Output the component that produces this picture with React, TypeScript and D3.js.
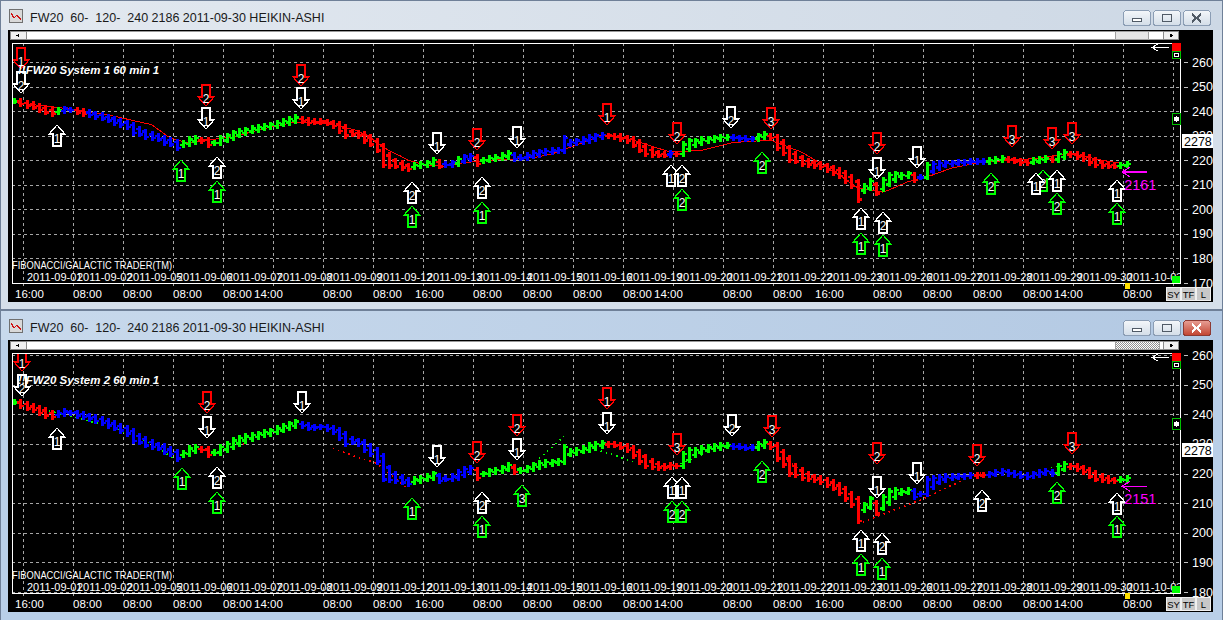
import React from 'react';
import * as d3 from 'd3';

// hourly Heikin-Ashi closes (same instrument in both windows)
const CLOSES = [
  2440, 2428, 2420, 2415, 2405, 2395, 2390, 2405, 2410, 2405,
  2395, 2390, 2385, 2378, 2370, 2362, 2352, 2345, 2335, 2310,
  2305, 2295, 2290, 2285, 2272, 2265, 2250, 2270, 2285, 2290,
  2280, 2262, 2270, 2290, 2300, 2312, 2320, 2325, 2330, 2335,
  2340, 2345, 2352, 2360, 2368, 2375, 2360, 2352, 2355, 2358,
  2350, 2340, 2320, 2300, 2305, 2300, 2280, 2265, 2240, 2180,
  2178, 2175, 2170, 2165, 2180, 2185, 2190, 2200, 2175, 2180,
  2190, 2205, 2215, 2218, 2185, 2200, 2210, 2212, 2220, 2228,
  2205, 2208, 2220, 2230, 2235, 2238, 2240, 2242, 2290, 2275,
  2280, 2285, 2295, 2300, 2302, 2300, 2295, 2288, 2280, 2260,
  2240, 2225, 2222, 2220, 2220, 2228, 2225, 2265, 2280, 2280,
  2285, 2288, 2292, 2295, 2295, 2290, 2288, 2285, 2288, 2300,
  2305, 2290, 2250, 2230, 2200, 2195, 2185, 2182, 2178, 2172,
  2162, 2150, 2135, 2115, 2095, 2040, 2095, 2115, 2065, 2120,
  2140, 2145, 2140, 2145, 2120, 2130, 2180, 2185, 2188, 2190,
  2190, 2192, 2192, 2195, 2195, 2195, 2200, 2205, 2208, 2200,
  2195, 2190, 2188, 2200, 2205, 2208, 2200, 2225, 2232, 2225,
  2215, 2205, 2190, 2180, 2178, 2175, 2175, 2180, 2185,
];

const DATES = [
  '2011-09-01', '2011-09-02', '2011-09-05', '2011-09-06', '2011-09-07', '2011-09-08',
  '2011-09-09', '2011-09-12', '2011-09-13', '2011-09-14', '2011-09-15', '2011-09-16',
  '2011-09-19', '2011-09-20', '2011-09-21', '2011-09-22', '2011-09-23', '2011-09-26',
  '2011-09-27', '2011-09-28', '2011-09-29', '2011-09-30', '2011-10-03',
];

// [label, position in trading days]
const TIME_TICKS: [string, number][] = [
  ['16:00', -0.16], ['08:00', 1], ['08:00', 2], ['08:00', 3], ['08:00', 4], ['14:00', 4.62],
  ['08:00', 6], ['08:00', 7], ['16:00', 7.84], ['08:00', 9], ['08:00', 10], ['08:00', 11],
  ['08:00', 12], ['14:00', 12.62], ['08:00', 14], ['08:00', 15], ['16:00', 15.84], ['08:00', 17],
  ['08:00', 18], ['08:00', 19], ['08:00', 20], ['14:00', 20.62], ['08:00', 22],
];

const BARS_PER_DAY = 8;
const FIRST_BAR_DAY = -0.18;

// bar colour runs: [first bar index, colour]
const TOP_COLORS: [number, string][] = [
  [0, 'G'], [1, 'R'], [7, 'G'], [8, 'B'], [10, 'R'], [12, 'B'], [27, 'G'], [30, 'R'], [32, 'G'],
  [46, 'R'], [64, 'G'], [68, 'R'], [69, 'B'], [71, 'G'], [72, 'B'], [74, 'R'], [75, 'G'], [80, 'B'],
  [95, 'R'], [105, 'B'], [106, 'R'], [107, 'G'], [115, 'B'], [119, 'G'], [121, 'R'], [136, 'G'],
  [138, 'R'], [139, 'G'], [144, 'R'], [145, 'B'], [146, 'G'], [147, 'B'], [156, 'G'], [159, 'R'],
  [163, 'G'], [166, 'R'], [167, 'G'], [169, 'R'], [177, 'G'],
];
const BOTTOM_COLORS: [number, string][] = [
  [0, 'G'], [1, 'R'], [7, 'B'], [27, 'G'], [30, 'R'], [32, 'G'], [46, 'B'], [64, 'G'], [68, 'B'],
  [74, 'R'], [75, 'G'], [80, 'R'], [81, 'G'], [95, 'R'], [107, 'G'], [115, 'B'], [119, 'G'],
  [121, 'R'], [136, 'G'], [138, 'R'], [139, 'G'], [144, 'B'], [154, 'R'], [156, 'B'], [167, 'G'],
  [169, 'R'], [177, 'G'],
];

// signal arrows: [bar index, price at arrow top, direction, colour, label]
type Sig = [number, number, 'u' | 'd', 'w' | 'r' | 'g', string];
const TOP_ARROWS: Sig[] = [
  [1.1, 2657, 'd', 'r', '1'], [1.1, 2559, 'd', 'w', '2'], [6.9, 2343, 'u', 'w', '1'],
  [30.7, 2506, 'd', 'r', '2'], [30.7, 2413, 'd', 'w', '1'], [45.9, 2588, 'd', 'r', '2'],
  [45.9, 2494, 'd', 'w', '1'], [26.7, 2201, 'u', 'g', '1'], [32.5, 2213, 'u', 'w', '2'],
  [32.5, 2115, 'u', 'g', '1'], [67.7, 2311, 'd', 'w', '1'], [74.1, 2327, 'd', 'r', '2'],
  [80.5, 2335, 'd', 'w', '1'], [63.7, 2111, 'u', 'w', '2'], [63.7, 2014, 'u', 'g', '1'],
  [74.9, 2132, 'u', 'w', '2'], [74.9, 2030, 'u', 'g', '1'], [94.9, 2429, 'd', 'r', '1'],
  [106.1, 2352, 'd', 'r', '2'], [114.7, 2417, 'd', 'w', '2'], [121.1, 2413, 'd', 'r', '3'],
  [105.1, 2181, 'u', 'w', '1'], [106.9, 2181, 'u', 'w', '2'], [106.9, 2083, 'u', 'g', '2'],
  [119.7, 2234, 'u', 'g', '2'], [138.1, 2311, 'd', 'r', '2'], [138.1, 2209, 'd', 'w', '1'],
  [144.5, 2254, 'd', 'w', '1'], [159.7, 2339, 'd', 'r', '3'], [166.1, 2331, 'd', 'r', '3'],
  [169.3, 2352, 'd', 'r', '3'], [135.5, 2006, 'u', 'w', '1'], [135.5, 1904, 'u', 'g', '1'],
  [139, 1989, 'u', 'w', '2'], [139, 1896, 'u', 'g', '1'], [156.3, 2148, 'u', 'g', '2'],
  [164.6, 2160, 'u', 'g', '2'], [163.5, 2148, 'u', 'w', '1'], [166.9, 2160, 'u', 'w', '1'],
  [166.9, 2067, 'u', 'g', '2'], [176.5, 2120, 'u', 'w', '1'], [176.5, 2026, 'u', 'g', '1'],
];
const BOTTOM_ARROWS: Sig[] = [
  [1.3, 2617, 'd', 'r', '1'], [1.3, 2532, 'd', 'w', '2'], [6.9, 2353, 'u', 'w', '1'],
  [30.9, 2475, 'd', 'r', '2'], [30.9, 2390, 'd', 'w', '1'], [46.1, 2475, 'd', 'w', '1'],
  [26.9, 2218, 'u', 'g', '1'], [32.5, 2222, 'u', 'w', '2'], [32.5, 2137, 'u', 'g', '1'],
  [63.7, 2117, 'u', 'g', '1'], [67.7, 2293, 'd', 'w', '1'], [74.1, 2307, 'd', 'r', '2'],
  [80.5, 2398, 'd', 'r', '2'], [80.5, 2316, 'd', 'w', '1'], [94.9, 2488, 'd', 'r', '1'],
  [94.9, 2404, 'd', 'w', '1'], [106.1, 2333, 'd', 'r', '3'], [114.9, 2398, 'd', 'w', '2'],
  [121.3, 2394, 'd', 'r', '3'], [74.9, 2137, 'u', 'w', '2'], [74.9, 2056, 'u', 'g', '1'],
  [81.3, 2161, 'u', 'g', '3'], [105.3, 2188, 'u', 'w', '1'], [106.9, 2188, 'u', 'w', '1'],
  [105.3, 2107, 'u', 'g', '2'], [106.9, 2107, 'u', 'g', '2'], [119.7, 2242, 'u', 'g', '2'],
  [138.1, 2303, 'd', 'r', '2'], [138.1, 2188, 'd', 'w', '1'], [144.5, 2235, 'd', 'w', '1'],
  [154.1, 2296, 'd', 'r', '2'], [169.3, 2336, 'd', 'r', '3'], [135.5, 2009, 'u', 'w', '1'],
  [135.5, 1928, 'u', 'g', '1'], [138.9, 1998, 'u', 'w', '2'], [138.9, 1914, 'u', 'g', '1'],
  [154.9, 2144, 'u', 'w', '2'], [166.9, 2171, 'u', 'g', '2'], [176.5, 2134, 'u', 'w', '1'],
  [176.5, 2056, 'u', 'g', '1'],
];

// System 1 trailing line [bar, price]
const TOP_STOP: [number, number][] = [
  [0, 2435], [7, 2415], [15, 2385], [22, 2345], [25, 2290], [28, 2270], [31, 2282], [35, 2295],
  [38, 2315], [41, 2335], [45, 2355], [48, 2352], [51, 2345], [55, 2320], [57, 2295], [58, 2270],
  [60, 2240], [62, 2215], [63, 2200], [66, 2180], [69, 2175], [72, 2190], [76, 2200], [80, 2205],
  [83, 2210], [86, 2225], [90, 2262], [94, 2302], [99, 2282], [105, 2233], [110, 2240], [115, 2272],
  [121, 2282], [126, 2233], [129, 2188], [132, 2140], [135, 2087], [139, 2070], [140, 2079],
  [143, 2112], [147, 2140], [150, 2168], [155, 2193], [160, 2200], [164, 2209], [169, 2229],
  [174, 2200], [177, 2188],
];

// System 2 dotted stops
const BOTTOM_STOPS: { c: string; pts: [number, number][] }[] = [
  { c: 'G', pts: [[3, 2425], [10, 2388], [16, 2355], [22, 2300], [26, 2245]] },
  { c: 'R', pts: [[34, 2305], [37, 2298]] },
  { c: 'R', pts: [[51, 2285], [55, 2255], [58, 2235], [60, 2200], [63, 2150]] },
  { c: 'G', pts: [[84, 2250], [88, 2325]] },
  { c: 'G', pts: [[93, 2282], [96, 2262], [99, 2240]] },
  { c: 'G', pts: [[104, 2225], [107, 2235], [110, 2262]] },
  { c: 'R', pts: [[123, 2255], [126, 2210]] },
  { c: 'R', pts: [[135, 2030], [139, 2062], [145, 2110], [150, 2160], [155, 2205]] },
  { c: 'G', pts: [[165, 2215], [167, 2225]] },
];

const TITLE = 'FW20  60-  120-  240 2186 2011-09-30 HEIKIN-ASHI';
const LAST_PRICE = 2278;

const COLOR: Record<string, string> = {
  G: '#00ff00', R: '#ff0000', B: '#0000ff', w: '#ffffff', r: '#ff0000', g: '#00ff00',
};

const W = 1223;
const H = 620;
const FONT = '"Liberation Sans", Arial, sans-serif';

const xDay = d3.scaleLinear().domain([0, 23]).range([23, 1173]);
const xBar = (i: number) => xDay(FIRST_BAR_DAY + i / BARS_PER_DAY);

const opens: number[] = [CLOSES[0]];
for (let i = 1; i < CLOSES.length; i++) opens.push((opens[i - 1] + CLOSES[i - 1]) / 2);

const colorAt = (runs: [number, string][], i: number) => {
  let c = runs[0][1];
  for (const [s, col] of runs) if (s <= i) c = col;
  return COLOR[c];
};

interface PanelCfg {
  id: string;
  y0: number;
  system: string;
  minPrice: number;
  pxMin: number;
  px2600: number;
  colors: [number, string][];
  arrows: Sig[];
  stop?: [number, number][];
  stops?: { c: string; pts: [number, number][] }[];
  markerPrice: number;
  markerText: string;
  active: boolean;
}

const PANELS: PanelCfg[] = [
  {
    id: 'a', y0: 0, system: '!!FW20 System 1 60 min 1', minPrice: 1700, pxMin: 283, px2600: 62,
    colors: TOP_COLORS, arrows: TOP_ARROWS, stop: TOP_STOP, markerPrice: 2152, markerText: '2161', active: false,
  },
  {
    id: 'b', y0: 310, system: '!!FW20 System 2 60 min 1', minPrice: 1800, pxMin: 282, px2600: 45,
    colors: BOTTOM_COLORS, arrows: BOTTOM_ARROWS, stops: BOTTOM_STOPS, markerPrice: 2157, markerText: '2151', active: true,
  },
];

const Arrow: React.FC<{ x: number; y: number; dir: 'u' | 'd'; color: string; label: string }> = ({ x, y, dir, color, label }) => {
  const pts = dir === 'u'
    ? [[x, y], [x + 8, y + 9], [x + 4, y + 9], [x + 4, y + 21], [x - 4, y + 21], [x - 4, y + 9], [x - 8, y + 9]]
    : [[x - 4, y], [x + 4, y], [x + 4, y + 12], [x + 8, y + 12], [x, y + 21], [x - 8, y + 12], [x - 4, y + 12]];
  return (
    <g>
      <polygon points={pts.map(p => p.join(',')).join(' ')} fill="#000" stroke={color} strokeWidth={1.2} />
      <text x={x} y={y + 18} textAnchor="middle" fill="#fff" fontSize={12} fontFamily={FONT}>{label}</text>
    </g>
  );
};

const WinButton: React.FC<{ x: number; y: number; kind: string; red?: boolean }> = ({ x, y, kind, red }) => (
  <g>
    <rect x={x + 0.5} y={y + 0.5} width={27} height={15} rx={3} fill={red ? 'url(#gRed)' : 'url(#gBtn)'} stroke={red ? '#8d3a33' : '#8b9db4'} />
    {kind === 'min' && <rect x={x + 9.5} y={y + 8.5} width={9} height={3} fill="#fff" stroke="#505a66" />}
    {kind === 'max' && <rect x={x + 9.5} y={y + 4.5} width={9} height={7} fill="none" stroke="#505a66" strokeWidth={1.5} />}
    {kind === 'close' && (
      <g stroke={red ? '#fff' : '#505a66'} strokeWidth={2}>
        <line x1={x + 9} y1={y + 4} x2={x + 18} y2={y + 12} />
        <line x1={x + 18} y1={y + 4} x2={x + 9} y2={y + 12} />
      </g>
    )}
  </g>
);

const Panel: React.FC<{ p: PanelCfg }> = ({ p }) => {
  const y0 = p.y0;
  const y = d3.scaleLinear().domain([p.minPrice, 2600]).range([y0 + p.pxMin, y0 + p.px2600]);
  const plotTop = y0 + 43;
  const plotBottom = y0 + 283;
  const plotLeft = 12;
  const plotRight = 1180;
  const priceTicks = d3.range(p.minPrice, 2601, 100);
  const line = d3.line<[number, number]>().x(d => xBar(d[0])).y(d => y(d[1]));
  const frame = p.active ? '#b9cfe8' : '#d5dfea';
  const bottomEdge = Math.min(y0 + 310, H);
  const markerX = xBar(177.3);
  const markerY = y(p.markerPrice);

  return (
    <g>
      {/* window frame and title bar */}
      <rect x={0.5} y={y0 + 0.5} width={W - 1} height={bottomEdge - y0 - 1 + (p.active ? 10 : 0)} fill={frame} stroke="#6f8098" />
      <rect x={1} y={y0 + 1} width={W - 2} height={29} fill={p.active ? 'url(#gTitleA)' : 'url(#gTitleI)'} />
      <rect x={9.5} y={y0 + 9.5} width={13} height={13} fill="#d9d9d9" stroke="#707070" />
      <polyline points={`${11},${y0 + 13} ${14},${y0 + 18} ${17},${y0 + 15} ${21},${y0 + 20}`} fill="none" stroke="#d01010" strokeWidth={1.3} />
      <text x={30} y={y0 + 22} fontSize={12.5} fontFamily={FONT} fill="#1a1a1a" style={{ whiteSpace: 'pre' }}>{TITLE}</text>
      <WinButton x={1123} y={y0 + 10} kind="min" />
      <WinButton x={1153} y={y0 + 10} kind="max" />
      <WinButton x={1183} y={y0 + 10} kind="close" red={p.active} />

      {/* client area */}
      <rect x={8} y={y0 + 30} width={1205} height={272} fill="#000" />

      {/* scrollbar */}
      <rect x={10.5} y={y0 + 31.5} width={1168} height={8} fill="#fff" stroke="#9a9a9a" />
      <rect x={10.5} y={y0 + 31.5} width={16} height={8} fill="#f0f0f0" stroke="#8a8a8a" />
      <polygon points={`${16},${y0 + 35.5} ${19},${y0 + 33.5} ${19},${y0 + 37.5}`} fill="#000" />
      <rect x={1115.5} y={y0 + 31.5} width={p.active ? 44 : 33} height={8} fill={p.active ? 'url(#hatch)' : '#e6e6e6'} stroke="#a0a0a0" />
      <rect x={1163.5} y={y0 + 31.5} width={15} height={8} fill="#f0f0f0" stroke="#8a8a8a" />
      <polygon points={`${1173},${y0 + 35.5} ${1170},${y0 + 33.5} ${1170},${y0 + 37.5}`} fill="#000" />

      {/* grid */}
      <g stroke="#a6a6a6" strokeDasharray="3 3" strokeWidth={1}>
        {d3.range(0, 24).map(k => (
          <line key={`v${k}`} x1={Math.round(xDay(k)) + 0.5} x2={Math.round(xDay(k)) + 0.5} y1={plotTop} y2={plotBottom + 6} />
        ))}
        {priceTicks.map(t => (
          <line key={`h${t}`} x1={plotLeft} x2={plotRight} y1={Math.round(y(t)) + 0.5} y2={Math.round(y(t)) + 0.5} />
        ))}
      </g>
      <rect x={plotLeft + 0.5} y={plotTop + 0.5} width={plotRight - plotLeft} height={plotBottom - plotTop} fill="none" stroke="#fff" />

      <g clipPath={`url(#clip${p.id})`}>
        {/* trailing stops */}
        {p.stop && <path d={line(p.stop) || ''} fill="none" stroke="#ff0000" strokeWidth={1} />}
        {p.stops && p.stops.map((s, k) => (
          <path key={k} d={line(s.pts) || ''} fill="none" stroke={COLOR[s.c]} strokeWidth={1.6} strokeDasharray="1.5 4" />
        ))}

        {/* Heikin-Ashi bars */}
        {CLOSES.map((c, i) => {
          const x = Math.round(xBar(i)) + 0.5;
          const yo = y(opens[i]);
          const yc = y(c);
          return (
            <g key={i} stroke={colorAt(p.colors, i)} strokeWidth={2.5}>
              <line x1={x} x2={x} y1={Math.min(yo, yc) - 3} y2={Math.max(yo, yc) + 3} />
              <line x1={x - 3.5} x2={x} y1={yo} y2={yo} />
              <line x1={x} x2={x + 3.5} y1={yc} y2={yc} />
            </g>
          );
        })}

        {/* signals */}
        {p.arrows.map((a, k) => (
          <Arrow key={k} x={Math.round(xBar(a[0]))} y={Math.round(y(a[1]))} dir={a[2]} color={COLOR[a[3]]} label={a[4]} />
        ))}

        {/* last-price marker */}
        <g stroke="#ff00ff" strokeWidth={1.2} fill="none">
          <line x1={markerX} x2={markerX + 25} y1={markerY} y2={markerY} />
          <polyline points={`${markerX + 8},${markerY - 5} ${markerX},${markerY} ${markerX + 8},${markerY + 5}`} />
        </g>
        <text x={markerX + 2} y={markerY + 18} fontSize={14.5} fontFamily={FONT} fill="#ff00ff">{p.markerText}</text>

        <text x={18} y={y0 + 74} fontSize={11.5} fontWeight="bold" fontStyle="italic" fontFamily={FONT} fill="#fff">{p.system}</text>
        <text x={12} y={y0 + 269} fontSize={10} fontFamily={FONT} fill="#fff" textLength={160} lengthAdjust="spacingAndGlyphs">FIBONACCI/GALACTIC TRADER(TM)</text>
        {DATES.map((d, k) => (
          <text key={d} x={xDay(k) + 4} y={y0 + 281} fontSize={11} fontFamily={FONT} fill="#fff">{d}</text>
        ))}
      </g>

      {/* right-edge widgets */}
      <g stroke="#fff" strokeWidth={1} fill="none">
        <line x1={1152} x2={1169} y1={y0 + 47.5} y2={y0 + 47.5} />
        <polyline points={`${1158},${y0 + 44} ${1152},${y0 + 47.5} ${1158},${y0 + 51}`} />
      </g>
      <rect x={1172} y={y0 + 43} width={9} height={8} fill="#ff0000" />
      <rect x={1172.5} y={y0 + 51.5} width={8} height={7} fill="#000" stroke="#00c000" />
      <rect x={1174.5} y={y0 + 53.5} width={4} height={3} fill="none" stroke="#fff" />
      <rect x={1172.5} y={Math.round(y(LAST_PRICE + 90)) - 5.5} width={8} height={11} fill="#000" stroke="#00c000" />
      <circle cx={1176.5} cy={Math.round(y(LAST_PRICE + 90))} r={2.6} fill="#fff" />
      <rect x={1172} y={plotBottom - 7} width={8} height={7} fill="#00ff00" />
      <rect x={xDay(22) + 2} y={plotBottom} width={5} height={6} fill="#ffe000" />

      {/* price axis */}
      <defs>
        <clipPath id={`ax${p.id}`}><rect x={1181} y={y0 + 30} width={32} height={272} /></clipPath>
      </defs>
      <g clipPath={`url(#ax${p.id})`}>
        {priceTicks.map(t => (
          <g key={t}>
            <line x1={1184} x2={1188} y1={Math.round(y(t)) + 0.5} y2={Math.round(y(t)) + 0.5} stroke="#c0c0c0" />
            <text x={1192} y={y(t) + 4.5} fontSize={12.5} fontFamily={FONT} fill="#fff">{t}</text>
          </g>
        ))}
        <rect x={1182} y={Math.round(y(LAST_PRICE)) - 7} width={31} height={14} fill="#fff" />
        <text x={1184} y={y(LAST_PRICE) + 4.5} fontSize={12.5} fontFamily={FONT} fill="#000">{LAST_PRICE}</text>
      </g>

      {/* time axis */}
      {TIME_TICKS.map(([t, d], k) => (
        <text key={k} x={xDay(d)} y={y0 + 297.5} fontSize={11.5} fontFamily={FONT} fill="#fff">{t}</text>
      ))}
      {['SY', 'TF', 'L'].map((b, k) => (
        <g key={b}>
          <rect x={1166.5 + k * 15} y={y0 + 287.5} width={14} height={13} fill="#c8c8c8" stroke="#f0f0f0" />
          <text x={1173.5 + k * 15} y={y0 + 298} textAnchor="middle" fontSize={9.5} fontFamily={FONT} fill="#000">{b}</text>
        </g>
      ))}
    </g>
  );
};

export default function App() {
  return (
    <div style={{ position: 'fixed', left: 0, top: 0 }}>
      <svg width={W} height={H} style={{ display: 'block' }} shapeRendering="crispEdges">
        <defs>
          <linearGradient id="gTitleI" x1="0" x2="1" y1="0" y2="0">
            <stop offset="0" stopColor="#e3e9f0" />
            <stop offset="1" stopColor="#cdd8e5" />
          </linearGradient>
          <linearGradient id="gTitleA" x1="0" x2="1" y1="0" y2="0">
            <stop offset="0" stopColor="#c8d9ec" />
            <stop offset="1" stopColor="#b3c9e3" />
          </linearGradient>
          <linearGradient id="gBtn" x1="0" x2="0" y1="0" y2="1">
            <stop offset="0" stopColor="#f4f7fa" />
            <stop offset="1" stopColor="#d3dde8" />
          </linearGradient>
          <linearGradient id="gRed" x1="0" x2="0" y1="0" y2="1">
            <stop offset="0" stopColor="#e8a096" />
            <stop offset="1" stopColor="#c2432f" />
          </linearGradient>
          <pattern id="hatch" width="2" height="2" patternUnits="userSpaceOnUse">
            <rect width="2" height="2" fill="#ffffff" />
            <rect width="1" height="1" fill="#909090" />
            <rect x="1" y="1" width="1" height="1" fill="#909090" />
          </pattern>
          {PANELS.map(p => (
            <clipPath key={p.id} id={`clip${p.id}`}>
              <rect x={13} y={p.y0 + 44} width={1167} height={239} />
            </clipPath>
          ))}
        </defs>
        <rect width={W} height={H} fill="#b3c7df" />
        {PANELS.map(p => <Panel key={p.id} p={p} />)}
      </svg>
    </div>
  );
}
